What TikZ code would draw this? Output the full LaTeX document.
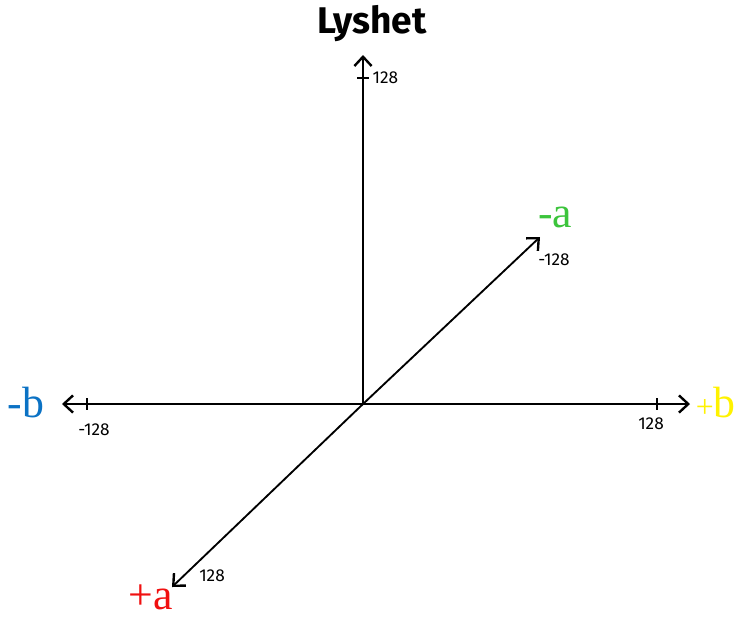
\documentclass[tikz,border=0pt]{standalone}
\usepackage{fontspec}
\setsansfont{Fira Sans}
\setmainfont{Liberation Serif}
\usetikzlibrary{arrows.meta,positioning,calc}
\definecolor{labgreen}{HTML}{3CC43C}
\definecolor{labyellow}{HTML}{FFF200}
\definecolor{labblue}{HTML}{0B72C4}
\definecolor{labred}{HTML}{F01010}

\begin{document}
\begin{tikzpicture}[
  x=0.0265cm, y=-0.0265cm,
  axis/.style={-{Straight Barb[length=7pt,width=13pt,line width=1.8pt]}, black, line width=1.4pt},
  tick/.style={black, line width=0.8pt},
  ticklbl/.style={font=\sffamily\fontsize{13}{13}\selectfont, text=black, inner sep=1pt},
  endlbl/.style={font=\fontsize{33}{33}\selectfont, inner sep=0pt},
  title/.style={font=\sffamily\bfseries\fontsize{28}{28}\selectfont, text=black},
]
\useasboundingbox (0,0) rectangle (737,619);

%% Origo og endepunkter
\coordinate (origin) at (363,404);
\coordinate (up)     at (363,55);
\coordinate (right)  at (690,404);
\coordinate (left)   at (62,404);
\coordinate (aneg)   at (540,237);
\coordinate (apos)   at (172,587);

%% Akser
\draw[axis] (origin) -- (up);
\draw[axis] (origin) -- (right);
\draw[axis] (origin) -- (left);
\draw[axis] (origin) -- (aneg);
\draw[axis] (origin) -- (apos);

%% Merker
\draw[tick] (357,78) -- (369,78);
\draw[tick] (657,398) -- (657,410);
\draw[tick] (87,398) -- (87,410);

%% Merketekst
\node[ticklbl, anchor=west] (tup)    at (371,78)  {128};
\node[ticklbl]              (tright) at (651,424) {128};
\node[ticklbl]              (tleft)  at (94,430)  {-128};
\node[ticklbl]              (taneg)  at (554,260) {-128};
\node[ticklbl]              (tapos)  at (212,576) {128};

%% Akseetiketter
\node[title]                                  (lys)  at (372,24)  {Lyshet};
\node[endlbl, text=labgreen]                  (mina) at (555,217) {-a};
\node[endlbl, text=labyellow, anchor=east]    (plb)  at (736,403) {{\fontsize{24}{24}\selectfont+}b};
\node[endlbl, text=labblue]                   (minb) at (26,403)  {-b};
\node[endlbl, text=labred]                    (pla)  at (151,597) {+a};

\end{tikzpicture}
\end{document}
